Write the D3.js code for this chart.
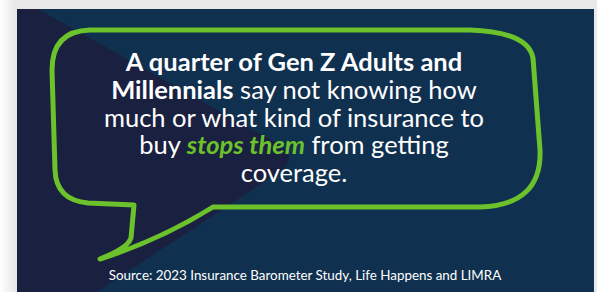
<!DOCTYPE html>
<html>
<head>
<meta charset="utf-8">
<script src="https://cdn.jsdelivr.net/npm/d3@7"></script>
<style>
  html, body { margin: 0; padding: 0; background: #f4f4f4; }
  #chart svg { display: block; }
</style>
</head>
<body>
<div id="chart"></div>
<script>
(function () {

  // Text content, line by line (each line is a list of styled pieces)
  const lineTexts = [
    [["A quarter of Gen Z Adults and", "bold"]],
    [["Millennials", "bold"], [" say not knowing how", "plain"]],
    [["much or what kind of insurance to", "plain"]],
    [["buy ", "plain"], ["stops them", "accent"], [" from getting", "plain"]],
    [["coverage.", "plain"]]
  ]
  const lineIndex = d3.range(lineTexts.length)
  const sourceText = "Source: 2023 Insurance Barometer Study, Life Happens and LIMRA"

  const width = 597
  const height = 292

  const svg = d3.select("#chart").append("svg")
    .attr("width", width)
    .attr("height", height)

  const defs = svg.append("defs")
  const shadow = defs.append("linearGradient").attr("id", "leftShade")
  shadow.append("stop").attr("offset", "0%").attr("stop-color", "#ffffff")
  shadow.append("stop").attr("offset", "100%").attr("stop-color", "#e6e6e6")

  // page around the card
  svg.append("rect").attr("width", width).attr("height", height).attr("fill", "#e9e9e9")
  svg.append("rect").attr("width", 17).attr("height", height).attr("fill", "url(#leftShade)")

  // card
  const card = { x: 17, y: 9, w: 577, h: 283 }
  svg.append("rect")
    .attr("x", card.x).attr("y", card.y)
    .attr("width", card.w).attr("height", card.h)
    .attr("fill", "#10304f")

  // darker diagonal wedge on the left
  svg.append("path")
    .attr("d", "M17,9 L38,9 L278,144 Q298,156 282,170 L97,292 L17,292 Z")
    .attr("fill", "#1a2140")

  // speech bubble outline
  const bubble = "M90,30 L470,30 Q528,32 533,58 L540,150 Q542,205 480,207 " +
    "L213,207 Q160,240 100,259 Q128,248 131,238 L134,205 L88,203 " +
    "Q56,200 55,170 L52,70 Q52,31 90,30 Z"
  svg.append("path")
    .attr("d", bubble)
    .attr("fill", "none")
    .attr("stroke", "#6cc22a")
    .attr("stroke-width", 5)
    .attr("stroke-linejoin", "round")

  // line positions
  const yScale = d3.scaleLinear()
    .domain([0, lineTexts.length - 1])
    .range([71, 182])

  const text = svg.append("g")
    .attr("font-family", "Lato, sans-serif")
    .attr("font-size", 25.5)
    .attr("text-anchor", "middle")

  text.selectAll("text")
    .data(lineIndex)
    .join("text")
    .attr("x", 294)
    .attr("y", d => yScale(d))
    .selectAll("tspan")
    .data(d => lineTexts[d])
    .join("tspan")
    .attr("fill", d => d[1] === "accent" ? "#6cc22a" : "#ffffff")
    .attr("font-weight", d => d[1] === "plain" ? 400 : 700)
    .attr("font-style", d => d[1] === "accent" ? "italic" : "normal")
    .style("white-space", "pre")
    .text(d => d[0])

  svg.append("text")
    .attr("x", 305)
    .attr("y", 280)
    .attr("text-anchor", "middle")
    .attr("font-family", "Lato, sans-serif")
    .attr("font-size", 13.4)
    .attr("fill", "#ffffff")
    .text(sourceText)

})();
</script>
</body>
</html>
